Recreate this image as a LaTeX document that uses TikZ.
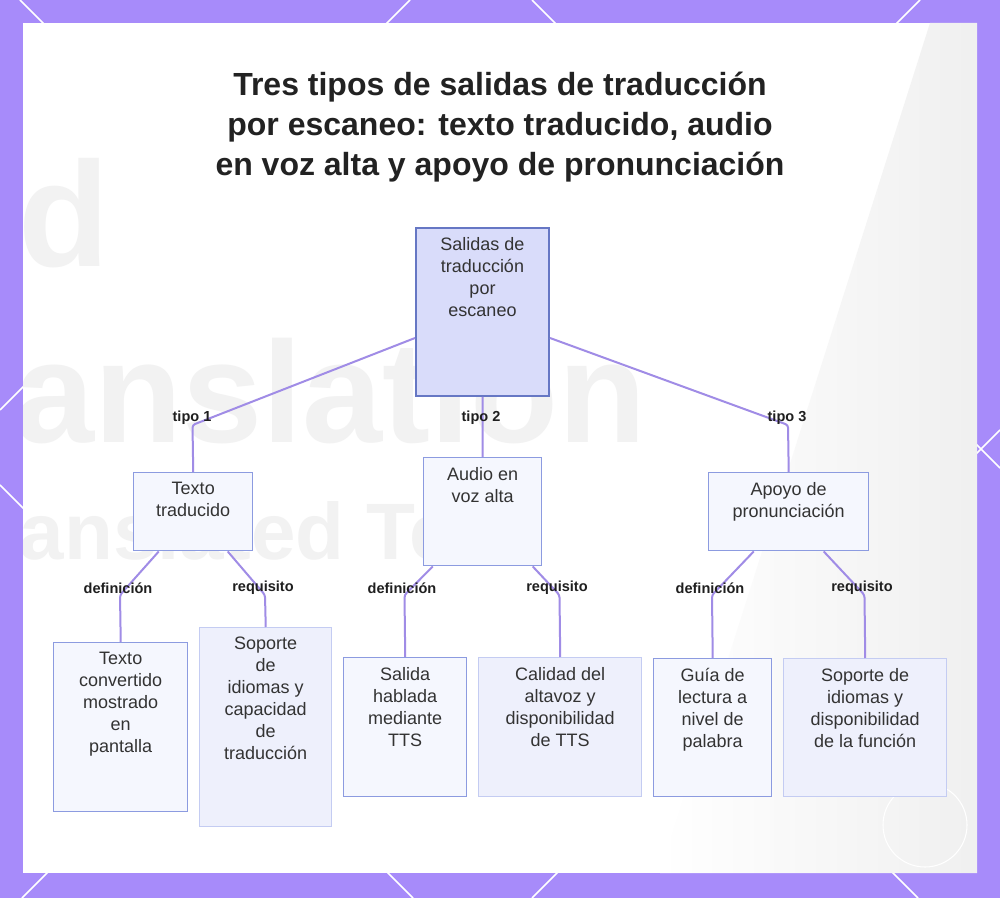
\documentclass[tikz,border=0pt]{standalone}
\usepackage{fontspec}
\setmainfont{Liberation Sans}
\usetikzlibrary{calc}
\definecolor{bgpurple}{HTML}{A78BFA}
\definecolor{edgecol}{HTML}{A08CE6}
\definecolor{rootfill}{HTML}{D9DCFA}
\definecolor{rootdraw}{HTML}{6677C4}
\definecolor{midfill}{HTML}{F5F7FE}
\definecolor{middraw}{HTML}{8C9BE0}
\definecolor{litefill}{HTML}{EEF0FC}
\definecolor{litedraw}{HTML}{C4CCF2}
\definecolor{txtcol}{HTML}{333333}
\definecolor{titlecol}{HTML}{222222}
\begin{document}
\begin{tikzpicture}[x=0.75pt,y=-0.75pt,
  boxbase/.style={rectangle, inner sep=0pt, anchor=north west, line width=1.1pt},
  rootbox/.style={boxbase, draw=rootdraw, fill=rootfill, line width=1.5pt},
  midbox/.style={boxbase, draw=middraw, fill=midfill},
  litebox/.style={boxbase, draw=litedraw, fill=litefill},
  boxtext/.style={inner sep=0pt, align=center, text=txtcol,
    font=\fontsize{13.5}{16.5}\selectfont, execute at begin node=\strut},
  edge/.style={draw=edgecol, line width=1.5pt, rounded corners=2pt},
  elabel/.style={inner sep=0pt, text=black!88, font=\fontsize{10.9}{13}\selectfont\bfseries},
  latt/.style={draw=white, line width=1.2pt},
  wmark/.style={inner sep=0pt, text=black!5, anchor=base west}
]
\useasboundingbox (0,0) rectangle (1000,898);
% background
\fill[bgpurple] (0,0) rectangle (1000,898);
\begin{scope}
\clip (0,0) rectangle (1000,898);
\draw[latt] (0,485) -- (413,898);
\draw[latt] (20,0) -- (918,898);
\draw[latt] (532,0) -- (1000,468);
\draw[latt] (410,0) -- (0,410);
\draw[latt] (920,0) -- (22,898);
\draw[latt] (1000,430) -- (532,898);
\end{scope}
\fill[white] (23,23) rectangle (977,873);
\shade[left color=white, right color=black!6] (930,23) -- (977,23) -- (977,873) -- (660,873) -- cycle;
\begin{scope}
\clip (23,23) rectangle (977,873);
\node[wmark, font=\fontsize{112}{112}\selectfont\bfseries] (wm1) at (18,267) {d};
\node[wmark, font=\fontsize{108}{108}\selectfont\bfseries] (wm2) at (-122,443) {Translation};
\node[wmark, font=\fontsize{60}{60}\selectfont\bfseries] (wm3) at (-56,560) {Translated Text};
\end{scope}
\draw[white, line width=0.8pt] (925,825) circle (42);

% title
\node[inner sep=0pt, anchor=north, align=center, text=titlecol,
  font=\fontsize{24}{30}\selectfont\bfseries, execute at begin node=\strut] (title) at (500,72)
  {Tres tipos de salidas de traducción\\por escaneo: texto traducido, audio\\en voz alta y apoyo de pronunciación};

% boxes
\node[rootbox, minimum width=99.75pt, minimum height=126pt] (root) at (415,227) {};
\node[midbox, minimum width=89.25pt, minimum height=58.5pt] (tt) at (133,472) {};
\node[midbox, minimum width=88.5pt, minimum height=81pt] (au) at (423,457) {};
\node[midbox, minimum width=120pt, minimum height=58.5pt] (ap) at (708,472) {};
\node[midbox, minimum width=100.5pt, minimum height=126.75pt] (l1) at (53,642) {};
\node[litebox, minimum width=99pt, minimum height=149.25pt] (l2) at (199,627) {};
\node[midbox, minimum width=92.25pt, minimum height=104.25pt] (l3) at (343,657) {};
\node[litebox, minimum width=122.25pt, minimum height=104.25pt] (l4) at (478,657) {};
\node[midbox, minimum width=88.5pt, minimum height=103.5pt] (l5) at (653,658) {};
\node[litebox, minimum width=122.25pt, minimum height=103.5pt] (l6) at (783,658) {};

% box texts
\node[boxtext, below=7.5pt] (rootT) at (root.north) {Salidas de\\traducción\\por\\escaneo};
\node[boxtext, below=7.5pt] (ttT) at (tt.north) {Texto\\traducido};
\node[boxtext, below=7.5pt] (auT) at (au.north) {Audio en\\voz alta};
\node[boxtext, below=7.5pt] (apT) at (ap.north) {Apoyo de\\pronunciación};
\node[boxtext, below=7.5pt] (l1T) at (l1.north) {Texto\\convertido\\mostrado\\en\\pantalla};
\node[boxtext, below=7.5pt] (l2T) at (l2.north) {Soporte\\de\\idiomas y\\capacidad\\de\\traducción};
\node[boxtext, below=7.5pt] (l3T) at (l3.north) {Salida\\hablada\\mediante\\TTS};
\node[boxtext, below=7.5pt] (l4T) at (l4.north) {Calidad del\\altavoz y\\disponibilidad\\de TTS};
\node[boxtext, below=7.5pt] (l5T) at (l5.north) {Guía de\\lectura a\\nivel de\\palabra};
\node[boxtext, below=7.5pt] (l6T) at (l6.north) {Soporte de\\idiomas y\\disponibilidad\\de la función};

% bend points
\coordinate (k1) at (192.5,425);
\coordinate (k3) at (788,425);
\coordinate (kd1) at (120,595);
\coordinate (kr1) at (265,595);
\coordinate (kd2) at (404.5,595);
\coordinate (kr2) at (559.5,595);
\coordinate (kd3) at (712,595);
\coordinate (kr3) at (864.5,595);

% edges
\draw[edge] ($(root.north west)+(0,111)$) -- (k1) -- (tt.north);
\draw[edge] (root.south) -- (au.north);
\draw[edge] ($(root.north east)+(0,111)$) -- (k3) -- (ap.north);
\draw[edge] ($(tt.south)+(-34.5,0)$) -- (kd1) -- (l1.north);
\draw[edge] ($(tt.south)+(34.5,0)$) -- (kr1) -- (l2.north);
\draw[edge] ($(au.south)+(-50,0)$) -- (kd2) -- (l3.north);
\draw[edge] ($(au.south)+(50,0)$) -- (kr2) -- (l4.north);
\draw[edge] ($(ap.south)+(-35,0)$) -- (kd3) -- (l5.north);
\draw[edge] ($(ap.south)+(35,0)$) -- (kr3) -- (l6.north);

% edge labels
\node[elabel] (e1) at (192,418) {tipo 1};
\node[elabel] (e2) at (481,418) {tipo 2};
\node[elabel] (e3) at (787,418) {tipo 3};
\node[elabel] (d1) at (118,588) {definición};
\node[elabel] (r1) at (263,588) {requisito};
\node[elabel] (d2) at (402,588) {definición};
\node[elabel] (r2) at (557,588) {requisito};
\node[elabel] (d3) at (710,588) {definición};
\node[elabel] (r3) at (862,588) {requisito};
\end{tikzpicture}
\end{document}
